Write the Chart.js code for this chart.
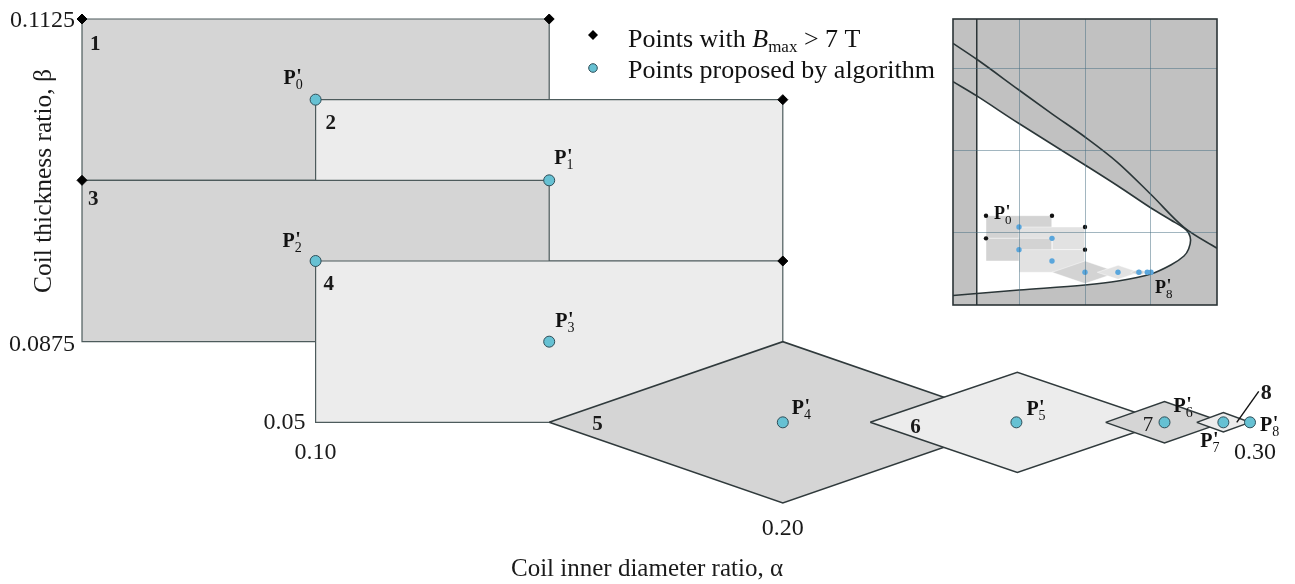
<!DOCTYPE html>
<html>
<head>
<meta charset="utf-8">
<script src="https://cdn.jsdelivr.net/npm/chart.js@4.4.1/dist/chart.umd.min.js"></script>
<style>
  html, body { margin: 0; padding: 0; background: #fff; }
  #wrap { position: relative; width: 1295px; height: 584px; overflow: hidden; }
  #mainChart { position: absolute; left: 0; top: 0; }
  #insetChart { position: absolute; left: 943px; top: 9px; }
</style>
</head>
<body>
<div id="wrap">
  <canvas id="mainChart" width="1295" height="584"></canvas>
  <canvas id="insetChart" width="284" height="306"></canvas>
</div>
<script>
// Search regions: rectangles 1-4 and diamonds 5-8 (alpha on x, grid level on y)
const rectAlpha = [[0.05, 0.15], [0.10, 0.20], [0.05, 0.15], [0.10, 0.20]];
const rectLevel = [[3, 5], [2, 4], [1, 3], [0, 2]];
const diamondAlpha = [[0.15, 0.25], [0.2187, 0.2817], [0.2691, 0.2943], [0.2886, 0.30]];
const diamondHalfLevel = [1, 0.62, 0.257, 0.12];
const regionNames = ['1', '2', '3', '4', '5', '6', '7', '8'];

// Corner points with Bmax > 7 T
const hotAlpha = [0.05, 0.15, 0.20, 0.05, 0.20];
const hotLevel = [5, 5, 4, 3, 2];

// Points proposed by the algorithm, P'0 .. P'8
const propAlpha = [0.10, 0.15, 0.10, 0.15, 0.20, 0.25, 0.2817, 0.2943, 0.30];
const propLevel = [4, 3, 2, 1, 0, 0, 0, 0, 0];

// Axis labels
const xTickValues = [0.10, 0.20, 0.30];
const xTickText = ['0.10', '0.20', '0.30'];
const yTickLevels = [5, 1, 0];
const yTickText = ['0.1125', '0.0875', '0.05'];

// Inset: feasible region in the (alpha, beta) plane
const insetGridAlpha = [0.1, 0.2, 0.3];
const insetGridBeta = [0.1, 0.15, 0.2];
const limitAlpha = 0.036;
const upperAlpha = [0, 0.036, 0.1, 0.15, 0.2, 0.25, 0.3, 0.35, 0.4];
const upperBeta = [0.2152, 0.2055, 0.1868, 0.1723, 0.1582, 0.1425, 0.1232, 0.1032, 0.0905];
const edgeAlpha = [0, 0.036, 0.1, 0.2, 0.25, 0.3, 0.33, 0.35, 0.357, 0.36, 0.357, 0.35, 0.33, 0.3, 0.25, 0.2, 0.1, 0.036, 0];
const edgeBeta = [0.1919, 0.1832, 0.1664, 0.1412, 0.1284, 0.1150, 0.1077, 0.1028, 0.0998, 0.0955, 0.0901, 0.0858, 0.0803, 0.0749, 0.0706, 0.0682, 0.0651, 0.0630, 0.0618];

const SERIF = '"Liberation Serif", "DejaVu Serif", serif';
const DARK_FILL = '#d5d5d5';
const LIGHT_FILL = '#ececec';

function rectPoints(i) {
    const [a0, a1] = rectAlpha[i];
    const [l0, l1] = rectLevel[i];
    return [{x: a0, y: l1}, {x: a1, y: l1}, {x: a1, y: l0}, {x: a0, y: l0}, {x: a0, y: l1}];
}

function diamondPoints(i) {
    const [a0, a1] = diamondAlpha[i];
    const h = diamondHalfLevel[i];
    const c = (a0 + a1) / 2;
    return [{x: a0, y: 0}, {x: c, y: h}, {x: a1, y: 0}, {x: c, y: -h}, {x: a0, y: 0}];
}

function regionShapes(i) {
    return i < 4 ? rectPoints(i) : diamondPoints(i - 4);
}

function zip(xs, ys) {
    return xs.map((v, i) => ({x: v, y: ys[i]}));
}

// Bold P with prime and a plain subscript
function drawPLabel(ctx, x, y, sub, size) {
    ctx.save();
    ctx.fillStyle = '#111';
    ctx.textAlign = 'left';
    ctx.textBaseline = 'alphabetic';
    ctx.font = `bold ${size}px ${SERIF}`;
    ctx.fillText('P', x, y);
    const w = ctx.measureText('P').width;
    ctx.fillText("'", x + w + 0.5, y - 1);
    ctx.font = `${Math.round(size * 0.7)}px ${SERIF}`;
    ctx.fillText(sub, x + w, y + size * 0.25);
    ctx.restore();
}

// ---------- main schematic ----------
const mainDatasets = [];
mainDatasets.push({
    data: zip(hotAlpha, hotLevel),
    showLine: false,
    pointStyle: 'rectRot',
    pointRadius: 5,
    pointBackgroundColor: '#000',
    pointBorderColor: '#000',
    pointBorderWidth: 1,
    order: 0,
    clip: false
});
mainDatasets.push({
    data: zip(propAlpha, propLevel),
    showLine: false,
    pointStyle: 'circle',
    pointRadius: 5.5,
    pointBackgroundColor: '#66c1d3',
    pointBorderColor: '#2f4e58',
    pointBorderWidth: 1,
    order: 0,
    clip: false
});
regionNames.forEach((name, i) => {
    mainDatasets.push({
        data: regionShapes(i),
        fill: 'shape',
        backgroundColor: i % 2 === 0 ? DARK_FILL : LIGHT_FILL,
        borderColor: i < 4 ? '#4d5b5c' : '#303a3c',
        borderWidth: i < 4 ? 1.2 : 1.5,
        pointRadius: 0,
        tension: 0,
        order: 9 - i,
        clip: false
    });
});

const mainText = {
    id: 'mainText',
    afterDraw(chart) {
        const {ctx, scales: {x, y}} = chart;
        ctx.save();
        ctx.fillStyle = '#1a1a1a';

        // tick labels sit next to the corners they belong to
        ctx.font = `24px ${SERIF}`;
        ctx.textBaseline = 'middle';
        ctx.textAlign = 'right';
        const yTickX = [x.getPixelForValue(0.05) - 7, x.getPixelForValue(0.05) - 7, x.getPixelForValue(0.10) - 10];
        const yTickDy = [2, 3, 0];
        yTickLevels.forEach((lv, i) => {
            ctx.fillText(yTickText[i], yTickX[i], y.getPixelForValue(lv) + yTickDy[i]);
        });
        ctx.textAlign = 'center';
        const xTickY = [y.getPixelForValue(0) + 30, y.getPixelForValue(-1) + 26, y.getPixelForValue(0) + 30];
        const xTickDx = [0, 0, 5];
        xTickValues.forEach((v, i) => {
            ctx.fillText(xTickText[i], x.getPixelForValue(v) + xTickDx[i], xTickY[i]);
        });

        // axis titles
        ctx.font = `25px ${SERIF}`;
        ctx.fillText('Coil inner diameter ratio, \u03b1', 647, 569);
        ctx.save();
        ctx.translate(44, 181);
        ctx.rotate(-Math.PI / 2);
        ctx.font = `25.5px ${SERIF}`;
        ctx.fillText('Coil thickness ratio, \u03b2', 0, 0);
        ctx.restore();

        // region numbers
        ctx.textAlign = 'left';
        ctx.textBaseline = 'alphabetic';
        const nameOffset = [[8, 31], [10, 29], [6, 25], [8, 29], [43, 8], [40, 11], [37, 9], [64, -23]];
        regionNames.forEach((name, i) => {
            let ax, ay;
            if (i < 4) {
                ax = x.getPixelForValue(rectAlpha[i][0]);
                ay = y.getPixelForValue(rectLevel[i][1]);
            } else {
                ax = x.getPixelForValue(diamondAlpha[i - 4][0]);
                ay = y.getPixelForValue(0);
            }
            ctx.font = (name === '7' ? '' : 'bold ') + `${name === '8' ? 22 : 21}px ${SERIF}`;
            ctx.fillText(name, ax + nameOffset[i][0], ay + nameOffset[i][1]);
        });
        // leader from "8" into its diamond
        const lx = x.getPixelForValue(diamondAlpha[3][0]);
        const ly = y.getPixelForValue(0);
        ctx.strokeStyle = '#111';
        ctx.lineWidth = 1.4;
        ctx.beginPath();
        ctx.moveTo(lx + 62, ly - 31);
        ctx.lineTo(lx + 40, ly);
        ctx.stroke();

        // P' labels
        const pOffset = [[-32, -16], [5, -16], [-33, -14], [6, -15], [9, -8], [10, -7], [9, -10], [-23, 25], [10, 9]];
        propAlpha.forEach((a, i) => {
            drawPLabel(ctx, x.getPixelForValue(a) + pOffset[i][0], y.getPixelForValue(propLevel[i]) + pOffset[i][1], String(i), 20);
        });

        // legend
        ctx.fillStyle = '#000';
        ctx.beginPath();
        ctx.moveTo(593, 30); ctx.lineTo(598, 35); ctx.lineTo(593, 40); ctx.lineTo(588, 35); ctx.closePath();
        ctx.fill();
        ctx.fillStyle = '#66c1d3';
        ctx.strokeStyle = '#2f4e58';
        ctx.lineWidth = 1;
        ctx.beginPath();
        ctx.arc(593, 68, 4.3, 0, Math.PI * 2);
        ctx.fill();
        ctx.stroke();

        ctx.fillStyle = '#111';
        ctx.font = `26px ${SERIF}`;
        let tx = 628;
        ctx.fillText('Points with ', tx, 47);
        tx += ctx.measureText('Points with ').width;
        ctx.font = `italic 26px ${SERIF}`;
        ctx.fillText('B', tx, 47);
        tx += ctx.measureText('B').width;
        ctx.font = `17px ${SERIF}`;
        ctx.fillText('max', tx, 52);
        tx += ctx.measureText('max').width;
        ctx.font = `26px ${SERIF}`;
        ctx.fillText(' > 7 T', tx, 47);
        ctx.fillText('Points proposed by algorithm', 628, 78);
        ctx.restore();
    }
};

new Chart(document.getElementById('mainChart'), {
    type: 'line',
    data: {datasets: mainDatasets},
    options: {
        responsive: false,
        animation: false,
        events: [],
        layout: {padding: {left: 82, right: 45, top: 19, bottom: 81}},
        plugins: {legend: {display: false}, tooltip: {enabled: false}},
        scales: {
            x: {type: 'linear', display: false, min: 0.05, max: 0.30},
            y: {type: 'linear', display: false, min: -1, max: 5}
        }
    },
    plugins: [mainText]
});

// ---------- inset ----------
const insetDatasets = [];
insetDatasets.push({
    data: zip(hotAlpha, hotLevel),
    yAxisID: 'yl',
    showLine: false,
    pointRadius: 2.2,
    pointBackgroundColor: '#111',
    pointBorderWidth: 0,
    order: 0,
    clip: false
});
insetDatasets.push({
    data: zip(propAlpha, propLevel),
    yAxisID: 'yl',
    showLine: false,
    pointRadius: 2.7,
    pointBackgroundColor: '#5aa6dc',
    pointBorderWidth: 0,
    order: 0,
    clip: false
});
regionNames.forEach((name, i) => {
    insetDatasets.push({
        data: regionShapes(i),
        yAxisID: 'yl',
        fill: 'shape',
        backgroundColor: i % 2 === 0 ? '#d3d3d3' : '#e2e2e2',
        borderColor: 'rgba(255,255,255,0.55)',
        borderWidth: 0.8,
        pointRadius: 0,
        tension: 0,
        order: 10 - i
    });
});
insetDatasets.push({
    data: zip(upperAlpha, upperBeta),
    borderColor: '#2b3638',
    borderWidth: 1.6,
    pointRadius: 0,
    cubicInterpolationMode: 'monotone',
    order: 1
});
insetDatasets.push({
    data: zip(edgeAlpha, edgeBeta),
    borderColor: '#2b3638',
    borderWidth: 1.6,
    pointRadius: 0,
    tension: 0.35,
    order: 1
});
insetDatasets.push({
    data: [{x: limitAlpha, y: 0.05}, {x: limitAlpha, y: 0.24}],
    borderColor: '#2b3436',
    borderWidth: 1.5,
    pointRadius: 0,
    order: 1
});
// white feasible area inside the curve, right of the alpha limit
insetDatasets.push({
    data: zip(edgeAlpha, edgeBeta).filter(p => p.x >= limitAlpha),
    fill: 'shape',
    backgroundColor: '#ffffff',
    borderWidth: 0,
    pointRadius: 0,
    tension: 0.35,
    order: 20
});

const insetDecor = {
    id: 'insetDecor',
    beforeDraw(chart) {
        const {ctx, chartArea: a} = chart;
        ctx.save();
        ctx.fillStyle = '#c1c1c1';
        ctx.fillRect(a.left, a.top, a.right - a.left, a.bottom - a.top);
        ctx.restore();
    },
    afterDraw(chart) {
        const {ctx, chartArea: a, scales} = chart;
        ctx.save();
        ctx.strokeStyle = '#2b3436';
        ctx.lineWidth = 1.6;
        ctx.strokeRect(a.left, a.top, a.right - a.left, a.bottom - a.top);
        const px = scales.x, pl = scales.yl;
        drawPLabel(ctx, px.getPixelForValue(propAlpha[0]) - 25, pl.getPixelForValue(propLevel[0]) - 8, '0', 18);
        drawPLabel(ctx, px.getPixelForValue(propAlpha[8]) + 4, pl.getPixelForValue(propLevel[8]) + 21, '8', 18);
        ctx.restore();
    }
};

// grid drawn over the regions, as in the plotted field map
const gridStyle = {color: 'rgba(70,110,130,0.5)', lineWidth: 1, drawTicks: false, z: 1};

new Chart(document.getElementById('insetChart'), {
    type: 'line',
    data: {datasets: insetDatasets},
    options: {
        responsive: false,
        animation: false,
        events: [],
        layout: {padding: 10},
        plugins: {legend: {display: false}, tooltip: {enabled: false}},
        scales: {
            x: {
                type: 'linear', min: 0, max: 0.4,
                grid: gridStyle, border: {display: false}, ticks: {display: false},
                afterBuildTicks: s => { s.ticks = insetGridAlpha.map(v => ({value: v})); }
            },
            y: {
                type: 'linear', min: 0.056, max: 0.23,
                grid: gridStyle, border: {display: false}, ticks: {display: false},
                afterBuildTicks: s => { s.ticks = insetGridBeta.map(v => ({value: v})); }
            },
            yl: {type: 'linear', axis: 'y', display: false, min: -2.89, max: 22.38}
        }
    },
    plugins: [insetDecor]
});
</script>
</body>
</html>
